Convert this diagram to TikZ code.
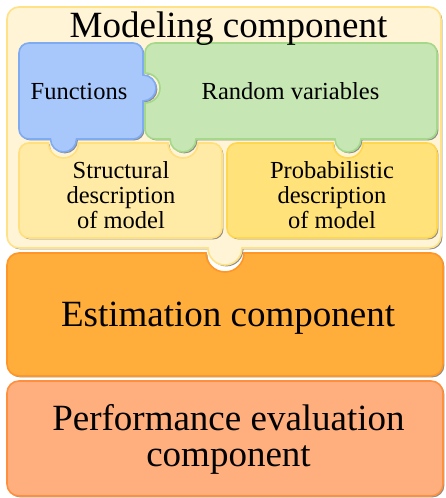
\documentclass[tikz,border=0pt]{standalone}
\usepackage{fontspec}
\setmainfont{Liberation Serif}
\usetikzlibrary{shadows}
\definecolor{outerfill}{HTML}{FFF4D6}
\definecolor{outerline}{HTML}{FFE286}
\definecolor{bluefill}{HTML}{A8C8FC}
\definecolor{blueline}{HTML}{7FABF3}
\definecolor{greenfill}{HTML}{C6E7B3}
\definecolor{greenline}{HTML}{A6D88C}
\definecolor{structfill}{HTML}{FFEBA6}
\definecolor{structline}{HTML}{FFDF7E}
\definecolor{probfill}{HTML}{FFE37A}
\definecolor{probline}{HTML}{FFD650}
\definecolor{estfill}{HTML}{FFAD3B}
\definecolor{estline}{HTML}{FF9626}
\definecolor{perffill}{HTML}{FFAF7E}
\definecolor{perfline}{HTML}{FF8F3C}
\begin{document}
\begin{tikzpicture}[x=1pt,y=1pt,
  piece/.style={line width=1.6pt,
    drop shadow={shadow xshift=1.4pt, shadow yshift=-1.4pt, fill=black!50, opacity=0.9}},
  bigtext/.style={font=\fontsize{37}{37}\selectfont, align=center, inner sep=0pt},
  midtext/.style={font=\fontsize{24.5}{25}\selectfont, inner sep=0pt},
  smalltext/.style={font=\fontsize{24.5}{25}\selectfont, align=center, inner sep=0pt},
  ]
\useasboundingbox (0,0) rectangle (445,498);
\fill[white] (0,0) rectangle (445,498);

% Performance evaluation component
\path[piece, fill=perffill, draw=perfline]
  (19,2) -- (431,2) arc[start angle=-90,end angle=0,radius=12]
  -- (443,105) arc[start angle=0,end angle=90,radius=12]
  -- (19,117) arc[start angle=90,end angle=180,radius=12]
  -- (7,14) arc[start angle=180,end angle=270,radius=12] -- cycle;

% Estimation component (notch on top)
\path[piece, fill=estfill, draw=estline]
  (19,122) -- (431,122) arc[start angle=-90,end angle=0,radius=12]
  -- (443,233) arc[start angle=0,end angle=90,radius=12]
  -- (244,245) arc[start angle=0,end angle=-180,radius=19]
  -- (19,245) arc[start angle=90,end angle=180,radius=12]
  -- (7,134) arc[start angle=180,end angle=270,radius=12] -- cycle;

% Modeling component (knob at bottom)
\path[piece, fill=outerfill, draw=outerline]
  (19,250) -- (208,250) arc[start angle=180,end angle=360,radius=17]
  -- (429,250) arc[start angle=-90,end angle=0,radius=12]
  -- (441,479) arc[start angle=0,end angle=90,radius=12]
  -- (19,491) arc[start angle=90,end angle=180,radius=12]
  -- (7,262) arc[start angle=180,end angle=270,radius=12] -- cycle;

% Structural description (two notches)
\path[piece, fill=structfill, draw=structline]
  (29,260) -- (212,260) arc[start angle=-90,end angle=0,radius=10]
  -- (222,345) arc[start angle=0,end angle=90,radius=10]
  -- (198,355) arc[start angle=0,end angle=-180,radius=15]
  -- (78.5,355) arc[start angle=0,end angle=-180,radius=15]
  -- (29,355) arc[start angle=90,end angle=180,radius=10]
  -- (19,270) arc[start angle=180,end angle=270,radius=10] -- cycle;

% Probabilistic description (one notch)
\path[piece, fill=probfill, draw=probline]
  (237,260) -- (427,260) arc[start angle=-90,end angle=0,radius=10]
  -- (437,345) arc[start angle=0,end angle=90,radius=10]
  -- (363,355) arc[start angle=0,end angle=-180,radius=15]
  -- (237,355) arc[start angle=90,end angle=180,radius=10]
  -- (227,270) arc[start angle=180,end angle=270,radius=10] -- cycle;

% Functions (knobs bottom and right)
\path[piece, fill=bluefill, draw=blueline]
  (29,359) -- (50.5,359) arc[start angle=180,end angle=360,radius=13]
  -- (133,359) arc[start angle=-90,end angle=0,radius=10]
  -- (143,397) arc[start angle=-90,end angle=90,radius=13]
  -- (143,445) arc[start angle=0,end angle=90,radius=10]
  -- (29,455) arc[start angle=90,end angle=180,radius=10]
  -- (19,369) arc[start angle=180,end angle=270,radius=10] -- cycle;

% Random variables (two knobs bottom, notch left)
\path[piece, fill=greenfill, draw=greenline]
  (155,359) -- (170,359) arc[start angle=180,end angle=360,radius=13]
  -- (335,359) arc[start angle=180,end angle=360,radius=13]
  -- (427,359) arc[start angle=-90,end angle=0,radius=10]
  -- (437,445) arc[start angle=0,end angle=90,radius=10]
  -- (155,455) arc[start angle=90,end angle=180,radius=10]
  -- (145,425) arc[start angle=90,end angle=-90,radius=15]
  -- (145,369) arc[start angle=180,end angle=270,radius=10] -- cycle;

% Texts (multi-line nodes: base anchor is the last line's baseline)
\node[bigtext, anchor=base] (title) at (228.5,460.5) {Modeling component};
\node[midtext, anchor=base] (fun) at (79,398) {Functions};
\node[midtext, anchor=base] (rv) at (290.5,398) {Random variables};
\node[smalltext, anchor=base] (struct) at (121,269) {Structural\\description\\of model};
\node[smalltext, anchor=base] (prob) at (332,269) {Probabilistic\\description\\of model};
\node[bigtext, anchor=base] (est) at (228,171) {Estimation component};
\node[bigtext, anchor=base] (perf) at (228.5,31) {Performance evaluation\\component};
\end{tikzpicture}
\end{document}
